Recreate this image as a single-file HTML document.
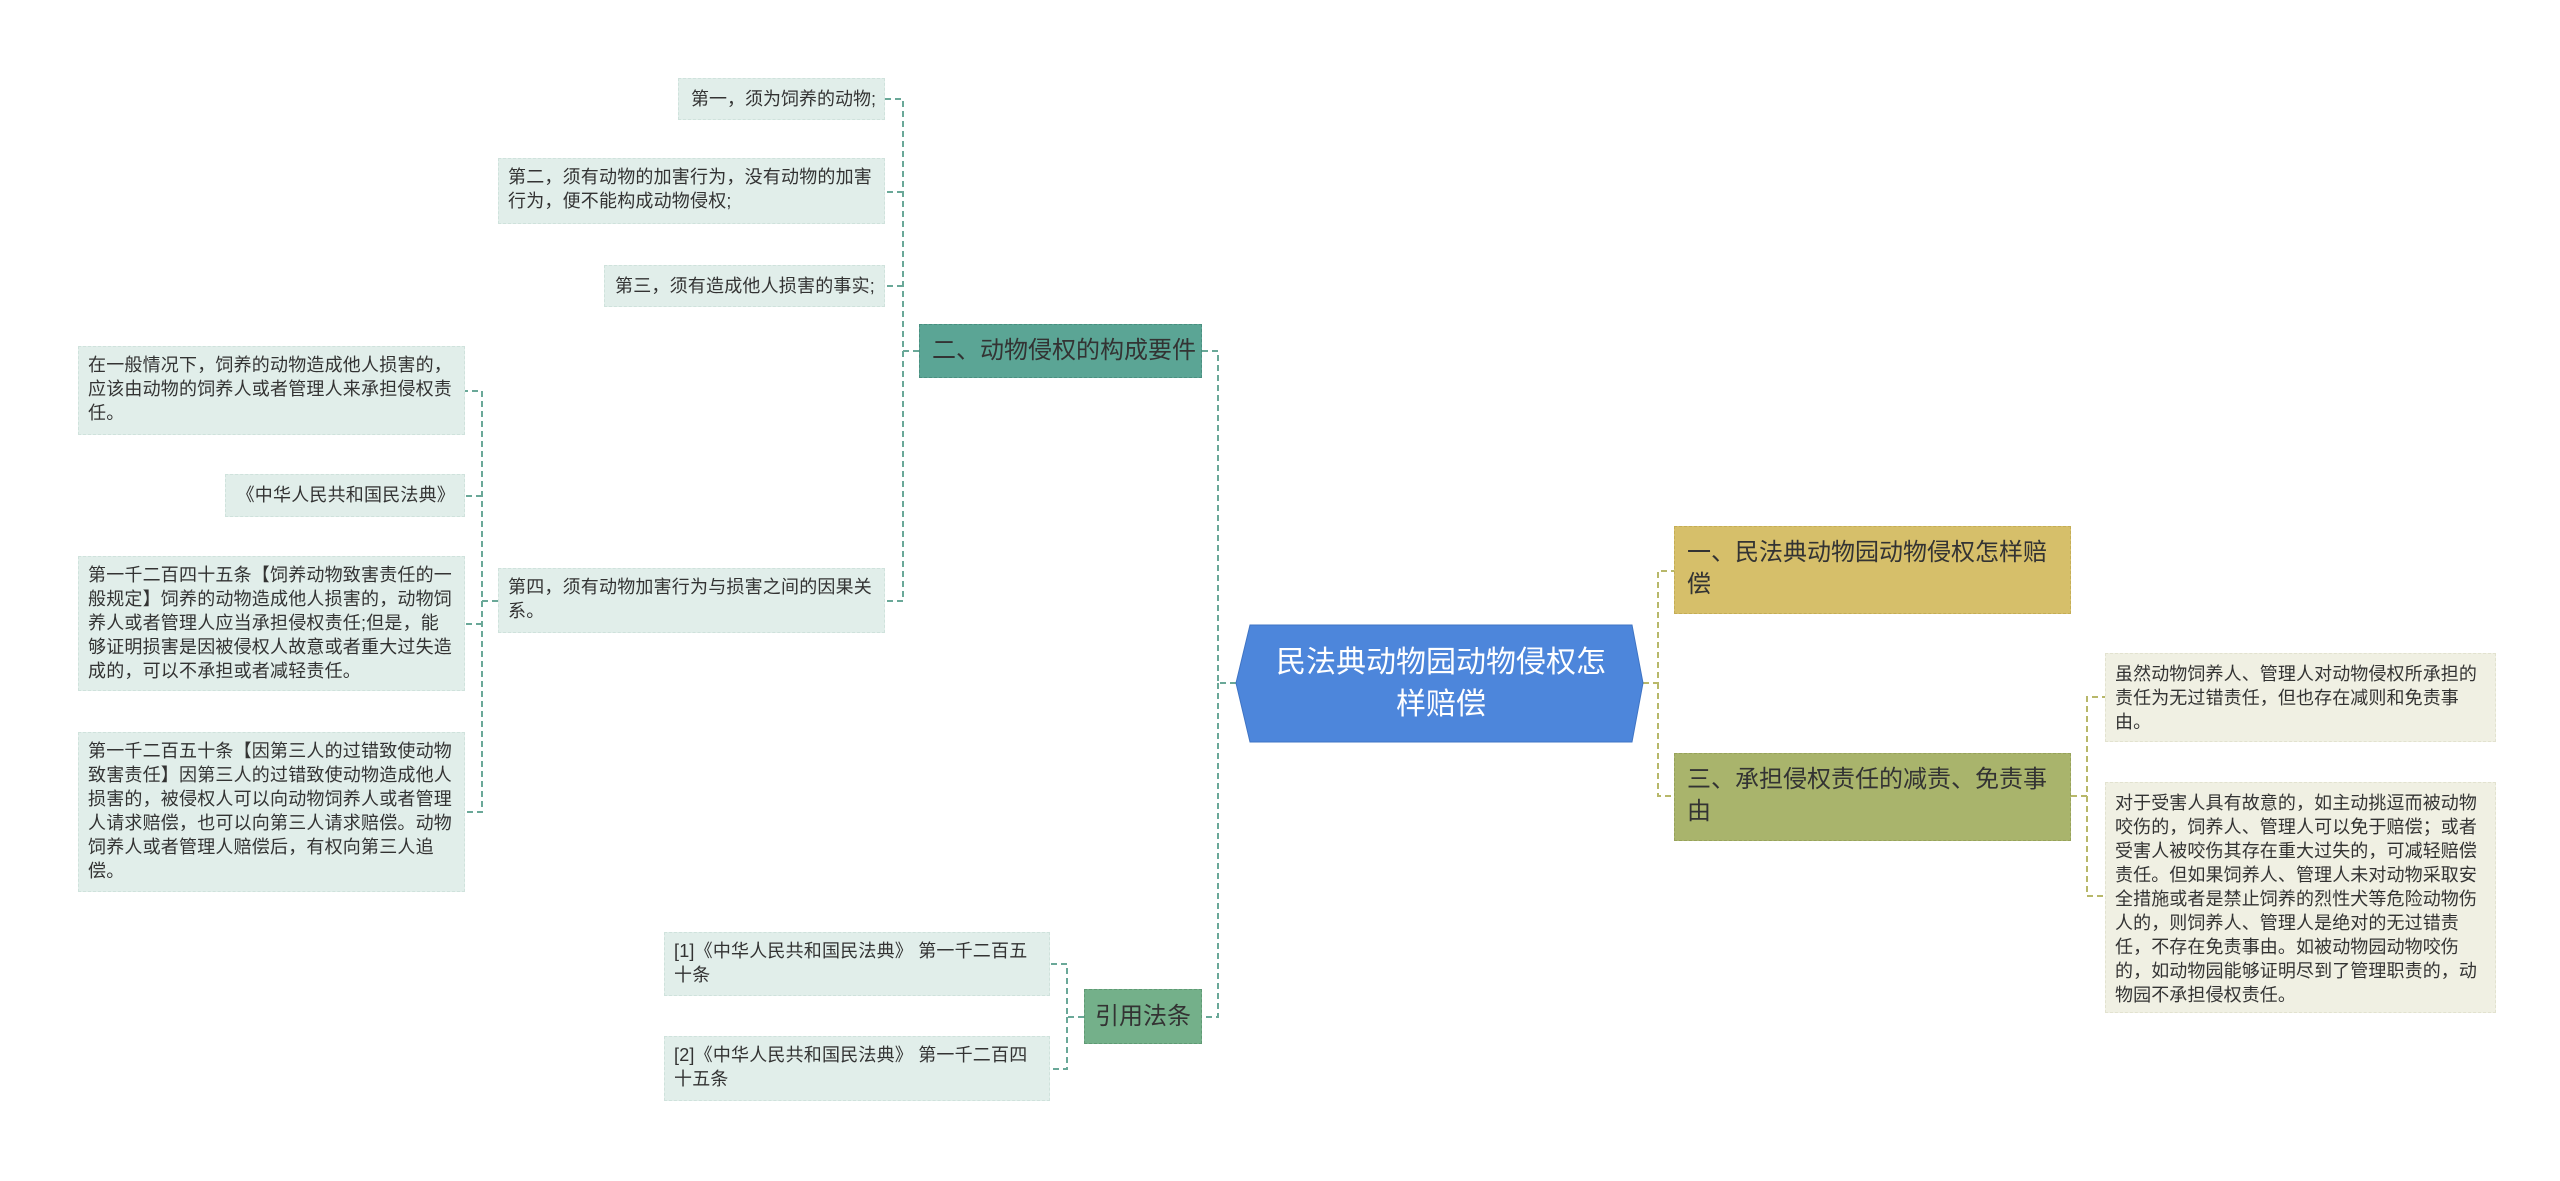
<!DOCTYPE html>
<html><head><meta charset="utf-8"><style>
body{margin:0;width:2560px;height:1181px;background:#fff;position:relative;overflow:hidden;font-family:"Liberation Sans","Noto Sans CJK SC",sans-serif;}
.n{position:absolute;box-sizing:border-box;color:#333;}
.lf{background:#e1eeea;border:1px dashed #cfe2dc;font-size:18px;line-height:24px;padding:6px 9px;letter-spacing:0.2px;}
.rf{background:#f0f0e3;border:1px dashed #e2e2cf;font-size:18px;line-height:24px;padding:8px 9px;letter-spacing:0.1px;}
.r{text-align:right;white-space:nowrap;}
svg{position:absolute;left:0;top:0;}
</style></head><body>
<svg width="2560" height="1181">
<g fill="none" stroke="#6aa898" stroke-width="2" stroke-dasharray="6,4">
<path d="M1236 683 H1218 V351 H1202 M1218 683 V1017 H1202"/>
<path d="M919 351 H903 V99 H885 M903 192 H885 M903 286 H885 M903 351 V601 H885"/>
<path d="M498 601 H482 V391 H465 M482 496 H465 M482 601 V812 H465 M482 624 H465"/>
<path d="M1084 1017 H1067 V964 H1050 M1067 1017 V1069 H1050"/>
</g>
<g fill="none" stroke="#b8b86a" stroke-width="2" stroke-dasharray="6,4">
<path d="M1643 683 H1658 V571 H1674 M1658 683 V796 H1674"/>
<path d="M2071 796 H2087 V697 H2105 M2087 796 V896 H2105"/>
</g>
<polygon points="1250,625 1632,625 1643,683 1632,742 1250,742 1236,683" fill="#4d86db" stroke="#3f74c4"/>
</svg>
<div class="n" style="left:1250px;top:625px;width:382px;height:117px;color:#fff;font-size:30px;line-height:42px;display:flex;align-items:center;justify-content:center;text-align:center;padding:0 12px;">民法典动物园动物侵权怎样赔偿</div>

<div class="n lf r" style="left:678px;top:78px;width:207px;height:42px;padding:8px 8px 0 4px;letter-spacing:0;">第一，须为饲养的动物;</div>
<div class="n lf" style="left:498px;top:158px;width:387px;height:66px;">第二，须有动物的加害行为，没有动物的加害行为，便不能构成动物侵权;</div>
<div class="n lf r" style="left:604px;top:265px;width:281px;height:42px;padding-top:8px;">第三，须有造成他人损害的事实;</div>
<div class="n lf" style="left:498px;top:568px;width:387px;height:65px;">第四，须有动物加害行为与损害之间的因果关系。</div>

<div class="n lf" style="left:78px;top:346px;width:387px;height:89px;">在一般情况下，饲养的动物造成他人损害的，应该由动物的饲养人或者管理人来承担侵权责任。</div>
<div class="n lf r" style="left:225px;top:474px;width:240px;height:43px;padding-top:8px;">《中华人民共和国民法典》</div>
<div class="n lf" style="left:78px;top:556px;width:387px;height:135px;">第一千二百四十五条【饲养动物致害责任的一般规定】饲养的动物造成他人损害的，动物饲养人或者管理人应当承担侵权责任;但是，能够证明损害是因被侵权人故意或者重大过失造成的，可以不承担或者减轻责任。</div>
<div class="n lf" style="left:78px;top:732px;width:387px;height:160px;">第一千二百五十条【因第三人的过错致使动物致害责任】因第三人的过错致使动物造成他人损害的，被侵权人可以向动物饲养人或者管理人请求赔偿，也可以向第三人请求赔偿。动物饲养人或者管理人赔偿后，有权向第三人追偿。</div>

<div class="n" style="left:919px;top:324px;width:283px;height:54px;background:#5ba595;border:1px dashed #4a8f80;font-size:24px;color:#333;line-height:52px;padding-left:12px;">二、动物侵权的构成要件</div>
<div class="n" style="left:1084px;top:989px;width:118px;height:55px;background:#74b08a;border:1px dashed #5f9a74;font-size:24px;line-height:53px;text-align:center;">引用法条</div>

<div class="n lf" style="left:664px;top:932px;width:386px;height:64px;">[1]《中华人民共和国民法典》 第一千二百五十条</div>
<div class="n lf" style="left:664px;top:1036px;width:386px;height:65px;">[2]《中华人民共和国民法典》 第一千二百四十五条</div>

<div class="n" style="left:1674px;top:526px;width:397px;height:88px;background:#d6bf6a;border:1px dashed #c4ad55;font-size:24px;line-height:32px;padding:10px 12px;">一、民法典动物园动物侵权怎样赔偿</div>
<div class="n" style="left:1674px;top:753px;width:397px;height:88px;background:#a9b46c;border:1px dashed #97a25a;font-size:24px;line-height:32px;padding:10px 12px;">三、承担侵权责任的减责、免责事由</div>

<div class="n rf" style="left:2105px;top:653px;width:391px;height:89px;">虽然动物饲养人、管理人对动物侵权所承担的责任为无过错责任，但也存在减则和免责事由。</div>
<div class="n rf" style="left:2105px;top:782px;width:391px;height:231px;">对于受害人具有故意的，如主动挑逗而被动物咬伤的，饲养人、管理人可以免于赔偿；或者受害人被咬伤其存在重大过失的，可减轻赔偿责任。但如果饲养人、管理人未对动物采取安全措施或者是禁止饲养的烈性犬等危险动物伤人的，则饲养人、管理人是绝对的无过错责任，不存在免责事由。如被动物园动物咬伤的，如动物园能够证明尽到了管理职责的，动物园不承担侵权责任。</div>
</body></html>
